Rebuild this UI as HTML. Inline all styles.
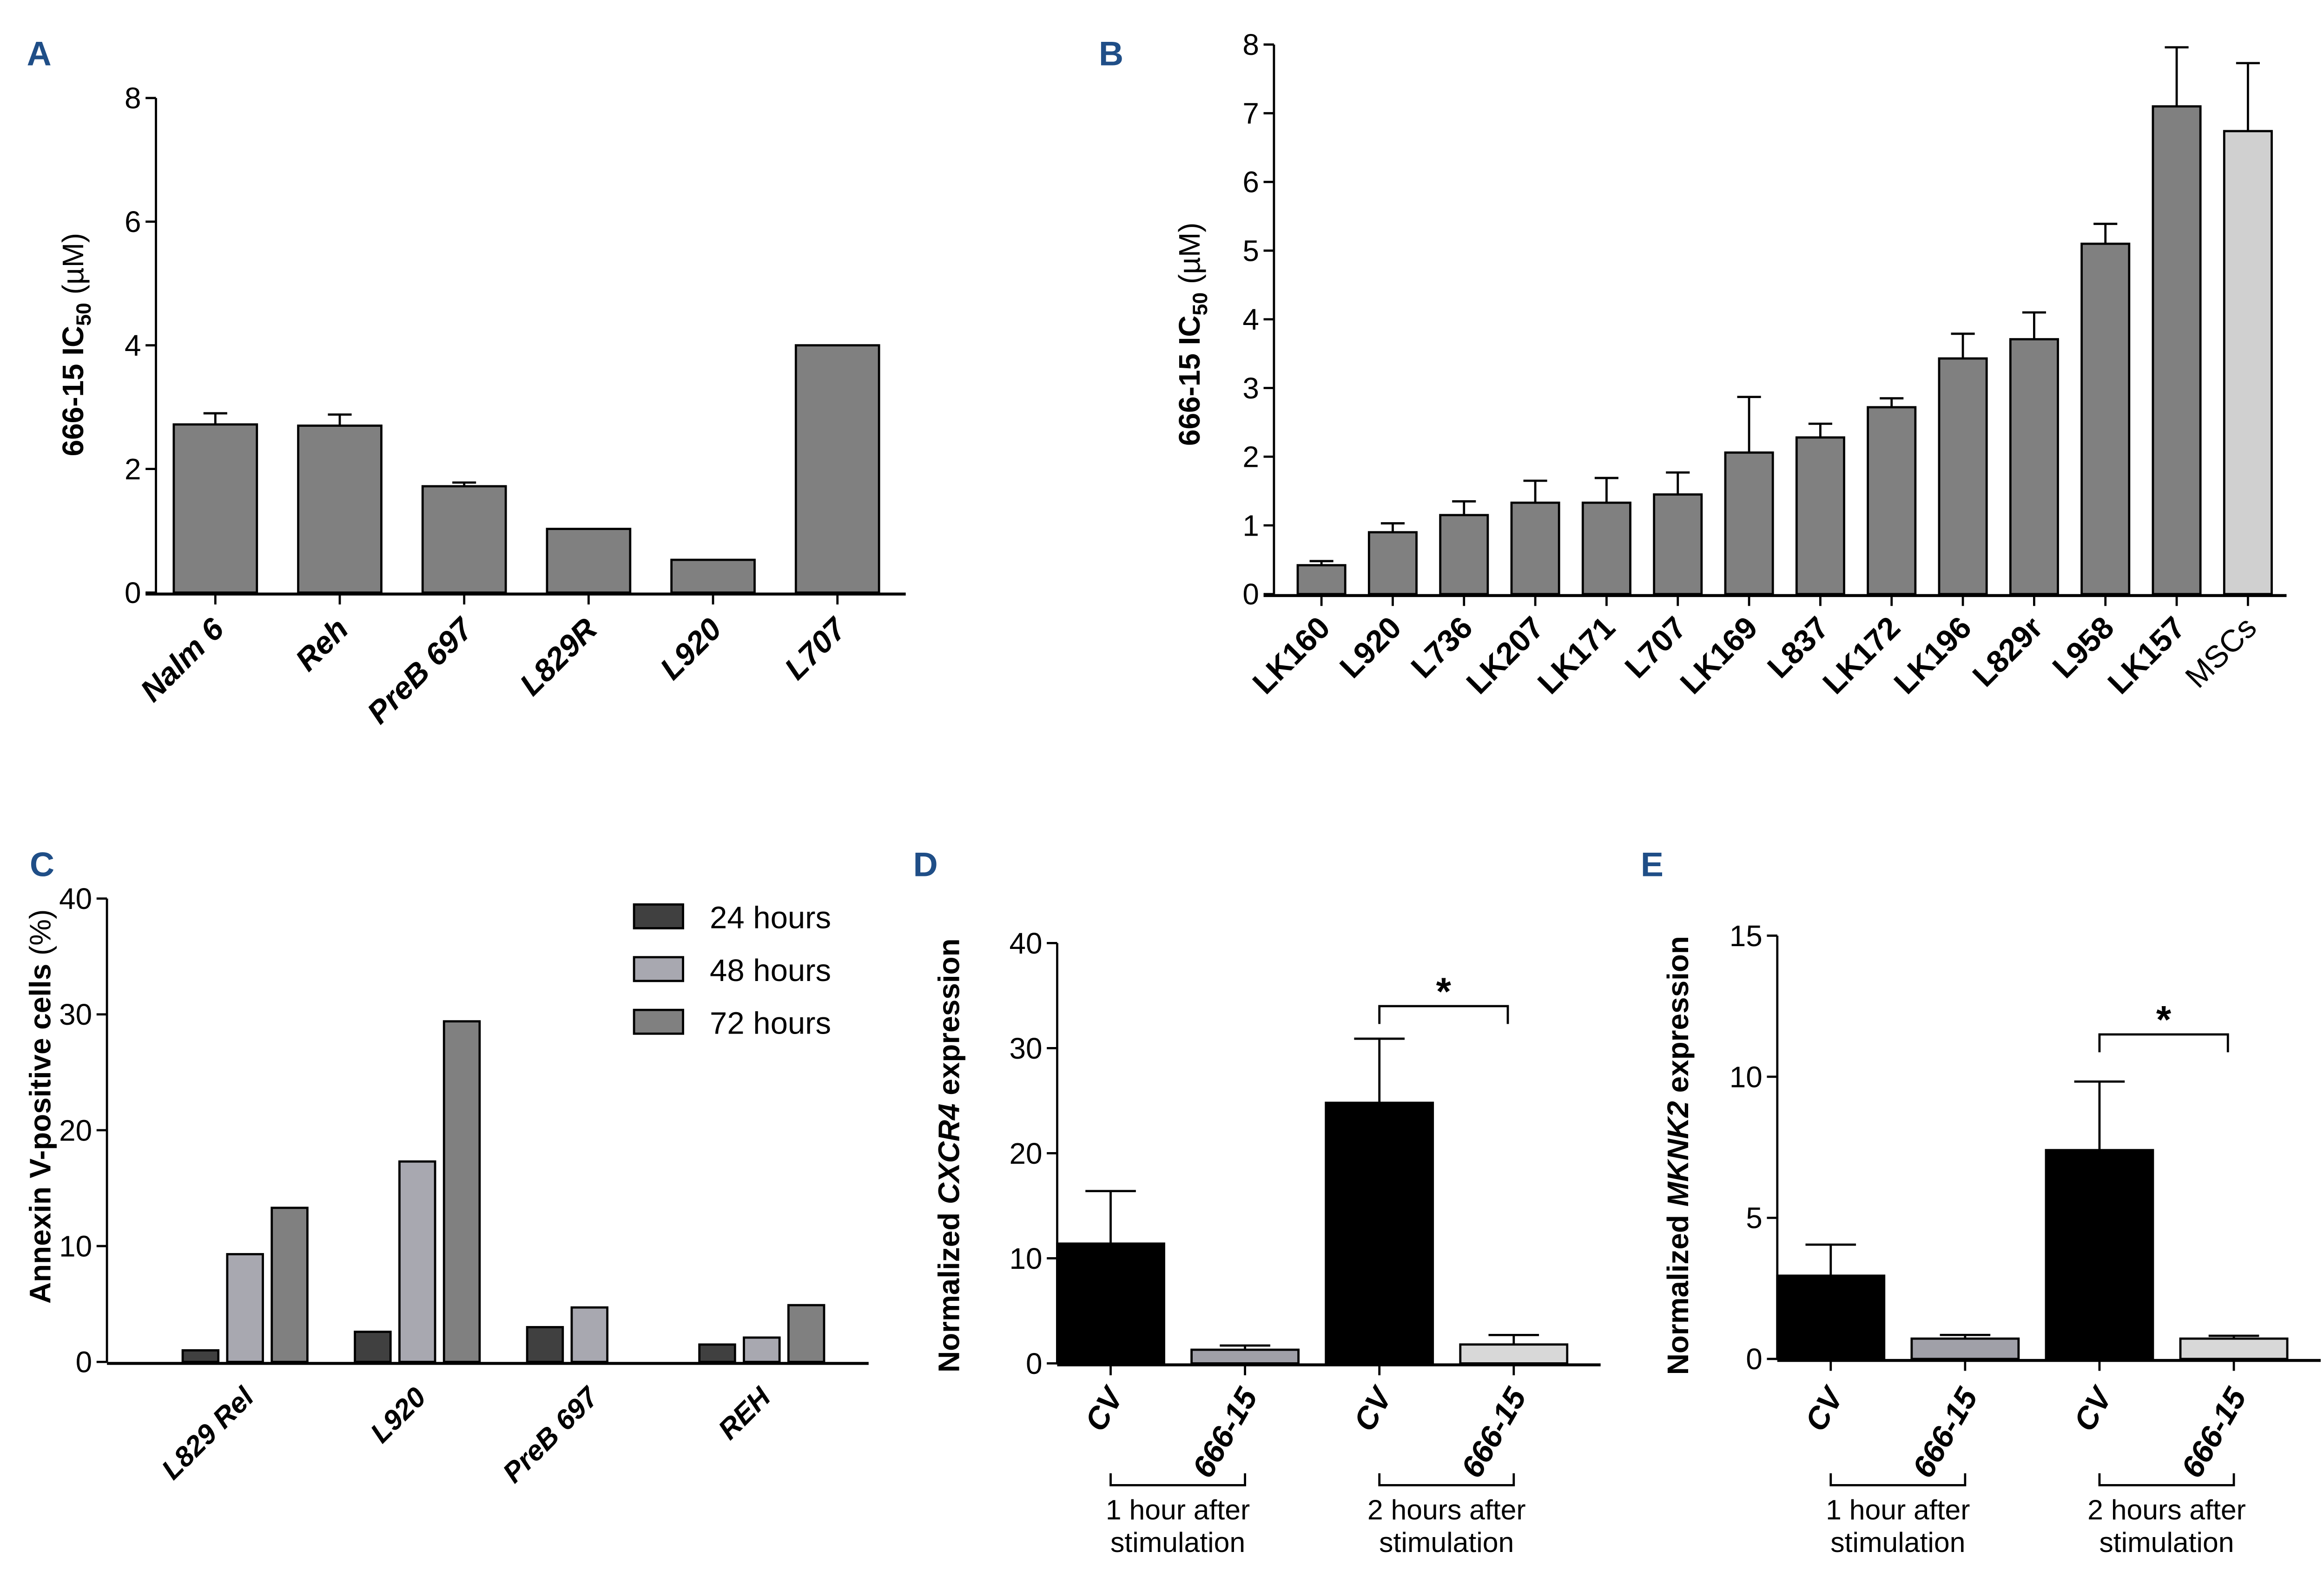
<!DOCTYPE html>
<html><head><meta charset="utf-8"><style>
html,body{margin:0;padding:0;background:#fff}
svg{display:block}
text{font-family:"Liberation Sans",sans-serif}
</style></head><body>
<svg id="s" width="5009" height="3394" viewBox="0 0 1568 1062.5" xmlns="http://www.w3.org/2000/svg">
<g font-weight="bold" font-size="23" fill="#1f4e87">
<text x="18" y="44">A</text>
<text x="740" y="44">B</text>
<text x="20" y="590">C</text>
<text x="615" y="590">D</text>
<text x="1105" y="590">E</text>
</g>
<g id="g"></g>
</svg>
<script>
// Panel A
const aCats=["Nalm 6","Reh","PreB 697","L829R","L920","L707"];
const aVals=[2.72,2.7,1.72,1.03,0.53,4.0];
const aErr=[2.9,2.88,1.78,null,null,null];
const aTicks=[0,2,4,6,8];
// Panel B
const bCats=["LK160","L920","L736","LK207","LK171","L707","LK169","L837","LK172","LK196","L829r","L958","LK157","MSCs"];
const bVals=[0.42,0.9,1.15,1.33,1.33,1.45,2.06,2.28,2.72,3.43,3.71,5.1,7.1,6.74];
const bErr=[0.48,1.03,1.35,1.65,1.69,1.77,2.87,2.48,2.85,3.79,4.1,5.39,7.96,7.73];
const bTicks=[0,1,2,3,4,5,6,7,8];
// Panel C
const cCats=["L829 Rel","L920","PreB 697","REH"];
const cSeries=["24 hours","48 hours","72 hours"];
const c24=[1.0,2.6,3.0,1.5];
const c48=[9.3,17.3,4.7,2.1];
const c72=[13.3,29.4,0,4.9];
const cTicks=[0,10,20,30,40];
// Panel D
const dCats=["CV","666-15","CV","666-15"];
const dVals=[11.4,1.3,24.8,1.8];
const dErr=[16.4,1.7,30.9,2.7];
const dTicks=[0,10,20,30,40];
// Panel E
const eVals=[2.95,0.72,7.4,0.72];
const eErr=[4.05,0.85,9.83,0.82];
const eTicks=[0,5,10,15];

const NS="http://www.w3.org/2000/svg";
const G=document.getElementById('g');
function mk(tag,at,parent,txt){const e=document.createElementNS(NS,tag);for(const k in at)e.setAttribute(k,at[k]);if(txt!=null)e.textContent=txt;(parent||G).appendChild(e);return e;}
function yAxis(x,y0,y1,max,ticks,name){
  const sc=v=>y0-(y0-y1)*v/max;
  let l=mk('line',{x1:x,y1:y0,x2:x,y2:y1,stroke:'#000','stroke-width':1.5});
  
  ticks.forEach(t=>{const y=sc(t);mk('line',{x1:x-7,y1:y,x2:x,y2:y,stroke:'#000','stroke-width':1.5});
    let tx=mk('text',{x:x-10,y:y+7,'text-anchor':'end','font-size':20},null,String(t));
    });
  return sc;
}
function xAxis(x1,x2,y,name){let l=mk('line',{x1:x1,y1:y,x2:x2,y2:y,stroke:'#000','stroke-width':2});
  }
function bar(cx,w,y0,yv,fill,name){let r=mk('rect',{x:cx-w/2,y:yv,width:w,height:Math.max(0,y0-yv),fill:fill,stroke:'#000','stroke-width':1.5});
  }
function err(cx,yv,ye,cap){mk('line',{x1:cx,y1:yv,x2:cx,y2:ye,stroke:'#000','stroke-width':1.5});mk('line',{x1:cx-cap,y1:ye,x2:cx+cap,y2:ye,stroke:'#000','stroke-width':1.5});}
function xtick(cx,y){mk('line',{x1:cx,y1:y,x2:cx,y2:y+8,stroke:'#000','stroke-width':1.5});}
function rotLabel(cx,y,txt,name,bold,italic,size,ang){let t=mk('text',{x:0,y:0,transform:`translate(${cx+7},${y}) rotate(${ang||-45})`,'text-anchor':'end','font-size':size||21,'font-weight':bold?'bold':'normal','font-style':italic?'italic':'normal'},null,txt);
  }
function yTitle(x,y,parts,name){let t=mk('text',{transform:`translate(${x},${y}) rotate(-90)`,'text-anchor':'middle','font-size':20,'font-weight':'bold'});
  
  parts.forEach(p=>mk('tspan',p.a||{},t,p.t));}

// A
{const y0=399,sc=yAxis(105,y0,66,8,aTicks,'panel-a');xAxis(98,610,y0+1,'panel-a');
 aCats.forEach((c,i)=>{const cx=145+i*83.8;bar(cx,56,y0,sc(aVals[i]),'#808080','bar-a-'+c.toLowerCase().replace(/ /g,'-'));
  if(aErr[i]!=null)err(cx,sc(aVals[i]),sc(aErr[i]),8);xtick(cx,y0);rotLabel(cx,425,c,'x-label-a',true,true);});
 yTitle(56,232,[{t:'666-15 IC'},{t:'50',a:{'font-size':14,dy:5}},{t:' (µM)',a:{'font-weight':'normal',dy:-5}}],'panel-a-y-title');}
// B
{const y0=400,sc=yAxis(858,y0,30,8,bTicks,'panel-b');xAxis(851,1540,y0+1,'panel-b');
 bCats.forEach((c,i)=>{const cx=890+i*48;const last=i===bCats.length-1;
  bar(cx,32,y0,sc(bVals[i]),last?'#d0d0d0':'#808080','bar-b-'+c.toLowerCase());
  err(cx,sc(bVals[i]),sc(bErr[i]),8);xtick(cx,y0);rotLabel(cx,424,c,'x-label-b',!last,false);});
 yTitle(808,225,[{t:'666-15 IC'},{t:'50',a:{'font-size':14,dy:5}},{t:' (µM)',a:{'font-weight':'normal',dy:-5}}],'panel-b-y-title');}
// C
{const y0=917,sc=yAxis(72,y0,605,40,cTicks,'panel-c');xAxis(72,585,y0+1,'panel-c');
 const cols=['#404040','#a8a8b0','#808080'];const ser=[c24,c48,c72];
 cCats.forEach((c,i)=>{const gc=165+i*116;ser.forEach((s,j)=>{if(s[i]>0)bar(gc+(j-1)*30,24,y0,sc(s[i]),cols[j],'bar-c-'+j+'-'+i);});
  rotLabel(gc,942,c,'x-label-c',true,true,19);});
 cSeries.forEach((s,j)=>{const y=617+j*35.5;let r=mk('rect',{x:427,y:y-8,width:33,height:16,fill:cols[j],stroke:'#000','stroke-width':1.5});
  
  let t=mk('text',{x:478,y:y+8,'font-size':21},null,s);});
 yTitle(34,745,[{t:'Annexin V-positive cells '},{t:'(%)',a:{'font-weight':'normal'}}],'panel-c-y-title');}
// D & E
function expPanel(ax,y0,ytop,max,ticks,vals,errs,bracketV,title,gene,name){
 const sc=yAxis(ax,y0,ytop,max,ticks,name);xAxis(ax,ax+366,y0+1,name);
 const cols=['#000','#a0a0a8','#000','#d8d8d8'];
 dCats.forEach((c,i)=>{const cx=ax+36+i*90.5;bar(cx,72,y0,sc(vals[i]),cols[i],name+'-bar-'+i);err(cx,sc(vals[i]),sc(errs[i]),17);xtick(cx,y0);
  rotLabel(cx+2,940,c,name+'-x-label',true,true,21,-60);});
 const by=sc(bracketV),bx1=ax+36+2*90.5,bx2=ax+36+3*90.5-4;
 mk('path',{d:`M${bx1},${by+12}V${by}H${bx2}V${by+12}`,fill:'none',stroke:'#000','stroke-width':1.5});
 let st=mk('text',{x:(bx1+bx2)/2,y:by-1,'text-anchor':'middle','font-size':26,'font-weight':'bold'},null,'*');
 [[0,'1 hour after'],[2,'2 hours after']].forEach(([i,l])=>{const a=ax+36+i*90.5,b=a+90.5;
  mk('path',{d:`M${a},992V1000H${b}V992`,fill:'none',stroke:'#000','stroke-width':1.5});
  let t1=mk('text',{x:(a+b)/2,y:1023,'text-anchor':'middle','font-size':19},null,l);
  let t2=mk('text',{x:(a+b)/2,y:1045,'text-anchor':'middle','font-size':19},null,'stimulation');});
 yTitle(title,778,[{t:'Normalized '},{t:gene,a:{'font-style':'italic'}},{t:' expression'}],name+'-y-title');
}
expPanel(712,918,635,40,dTicks,dVals,dErr,34,646,'CXCR4','panel-d');
expPanel(1197,915,630,15,eTicks,eVals,eErr,11.5,1137,'MKNK2','panel-e');
</script>
</body></html>
